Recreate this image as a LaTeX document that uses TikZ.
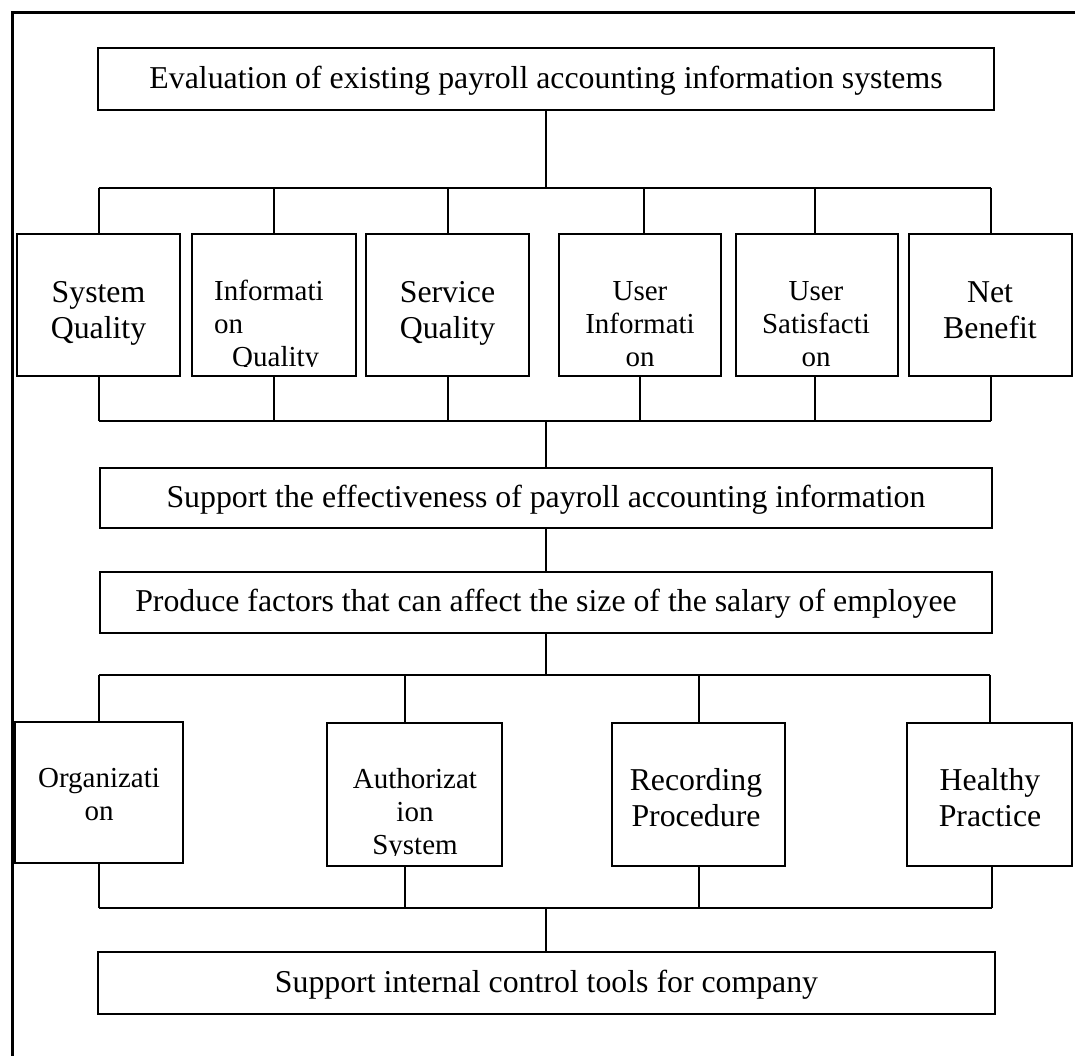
\documentclass[tikz,border=0pt]{standalone}
\usepackage{fontspec}
\setmainfont{Liberation Serif}
\usetikzlibrary{calc}
\begin{document}
\begin{tikzpicture}[x=1pt,y=-1pt,
  box/.style={draw,line width=2.8pt,inner sep=0pt},
  wide/.style={box,font=\fontsize{31.8}{36}\selectfont,text height=22pt,text depth=4pt},
  link/.style={line width=2pt},
  frame/.style={line width=3pt},
  big/.style={font=\fontsize{31.8}{36}\selectfont,align=center,inner sep=0pt},
  small/.style={font=\fontsize{29}{33}\selectfont,align=center,inner sep=0pt}]
\useasboundingbox (0,0) rectangle (1075,1055);
\newcommand\firstline{\rule{0pt}{24pt}}

% outer frame (only its top and left edges fall inside the page)
\draw[frame] (12,1070) -- (12,12) -- (1090,12);

% main chain of wide boxes
\node[wide,minimum width=896pt,minimum height=62pt] (top) at (546,79)
  {Evaluation of existing payroll accounting information systems};
\node[wide,minimum width=892pt,minimum height=60pt] (eff) at (546,498)
  {Support the effectiveness of payroll accounting information};
\node[wide,minimum width=892pt,minimum height=61pt] (prod) at (546,602.5)
  {Produce factors that can affect the size of the salary of employee};
\node[wide,minimum width=897pt,minimum height=62pt] (ctl) at (546.5,983)
  {Support internal control tools for company};

% first row of criteria boxes
\node[box,minimum width=163pt,minimum height=142pt] (b1) at (98.5,305) {};
\node[box,minimum width=164pt,minimum height=142pt] (b2) at (274,305) {};
\node[box,minimum width=163pt,minimum height=142pt] (b3) at (447.5,305) {};
\node[box,minimum width=162pt,minimum height=142pt] (b4) at (640,305) {};
\node[box,minimum width=162pt,minimum height=142pt] (b5) at (817,305) {};
\node[box,minimum width=163pt,minimum height=142pt] (b6) at (990.5,305) {};

% second row of factor boxes
\node[box,minimum width=168pt,minimum height=141pt] (c1) at (99,792.5) {};
\node[box,minimum width=175pt,minimum height=143pt] (c2) at (414.5,794.5) {};
\node[box,minimum width=173pt,minimum height=143pt] (c3) at (698.5,794.5) {};
\node[box,minimum width=165pt,minimum height=143pt] (c4) at (989.5,794.5) {};

% box labels, cut off at the inner margin of each box
\begin{scope}
  \clip ([yshift=10pt]b1.south west) rectangle (b1.north east);
  \node[big,anchor=north] (t1) at (98.5,278) {\firstline System\\Quality};
\end{scope}
\begin{scope}
  \clip ([yshift=11pt]b2.south west) rectangle (b2.north east);
  \node[small,align=left,anchor=north west] (t2) at (214,276)
    {\firstline Informati\\on\\\hspace*{18pt}Quality};
\end{scope}
\begin{scope}
  \clip ([yshift=10pt]b3.south west) rectangle (b3.north east);
  \node[big,anchor=north] (t3) at (447.5,278) {\firstline Service\\Quality};
\end{scope}
\begin{scope}
  \clip ([yshift=11pt]b4.south west) rectangle (b4.north east);
  \node[small,anchor=north] (t4) at (640,276) {\firstline User\\Informati\\on};
\end{scope}
\begin{scope}
  \clip ([yshift=11pt]b5.south west) rectangle (b5.north east);
  \node[small,anchor=north] (t5) at (816,276) {\firstline User\\Satisfacti\\on};
\end{scope}
\begin{scope}
  \clip ([yshift=10pt]b6.south west) rectangle (b6.north east);
  \node[big,anchor=north] (t6) at (990,278) {\firstline Net\\Benefit};
\end{scope}
\begin{scope}
  \clip ([yshift=9pt]c1.south west) rectangle (c1.north east);
  \node[small,anchor=north] (u1) at (99,763) {\firstline Organizati\\on};
\end{scope}
\begin{scope}
  \clip ([yshift=12pt]c2.south west) rectangle (c2.north east);
  \node[small,anchor=north] (u2) at (415,764) {\firstline Authorizat\\ion\\System};
\end{scope}
\begin{scope}
  \clip ([yshift=9pt]c3.south west) rectangle (c3.north east);
  \node[big,anchor=north] (u3) at (696,766) {\firstline Recording\\Procedure};
\end{scope}
\begin{scope}
  \clip ([yshift=9pt]c4.south west) rectangle (c4.north east);
  \node[big,anchor=north] (u4) at (990,766) {\firstline Healthy\\Practice};
\end{scope}

% bus lines
\coordinate (bus1) at (546,188);
\coordinate (bus2) at (546,421);
\coordinate (bus3) at (546,675);
\coordinate (bus4) at (546,908);

\draw[link] (top.south) -- (bus1);
\draw[link] (b1.north |- bus1) -- (b6.north |- bus1);
\draw[link] (b1.north) -- (b1.north |- bus1);
\draw[link] (b2.north) -- (b2.north |- bus1);
\draw[link] (b3.north) -- (b3.north |- bus1);
\draw[link] ([xshift=4pt]b4.north) -- ([xshift=4pt]b4.north |- bus1);
\draw[link] ([xshift=-2pt]b5.north) -- ([xshift=-2pt]b5.north |- bus1);
\draw[link] (b6.north) -- (b6.north |- bus1);

\draw[link] (b1.south |- bus2) -- (b6.south |- bus2);
\draw[link] (b1.south) -- (b1.south |- bus2);
\draw[link] (b2.south) -- (b2.south |- bus2);
\draw[link] (b3.south) -- (b3.south |- bus2);
\draw[link] (b4.south) -- (b4.south |- bus2);
\draw[link] ([xshift=-2pt]b5.south) -- ([xshift=-2pt]b5.south |- bus2);
\draw[link] (b6.south) -- (b6.south |- bus2);
\draw[link] (bus2) -- (eff.north);

\draw[link] (eff.south) -- (prod.north);
\draw[link] (prod.south) -- (bus3);

\draw[link] (c1.north |- bus3) -- (c4.north |- bus3);
\draw[link] (c1.north) -- (c1.north |- bus3);
\draw[link] ([xshift=-9.5pt]c2.north) -- ([xshift=-9.5pt]c2.north |- bus3);
\draw[link] (c3.north) -- (c3.north |- bus3);
\draw[link] (c4.north) -- (c4.north |- bus3);

\draw[link] (c1.south |- bus4) -- ([xshift=2.5pt]c4.south |- bus4);
\draw[link] (c1.south) -- (c1.south |- bus4);
\draw[link] ([xshift=-9.5pt]c2.south) -- ([xshift=-9.5pt]c2.south |- bus4);
\draw[link] (c3.south) -- (c3.south |- bus4);
\draw[link] ([xshift=2.5pt]c4.south) -- ([xshift=2.5pt]c4.south |- bus4);
\draw[link] (bus4) -- (bus4 |- ctl.north);
\end{tikzpicture}
\end{document}
